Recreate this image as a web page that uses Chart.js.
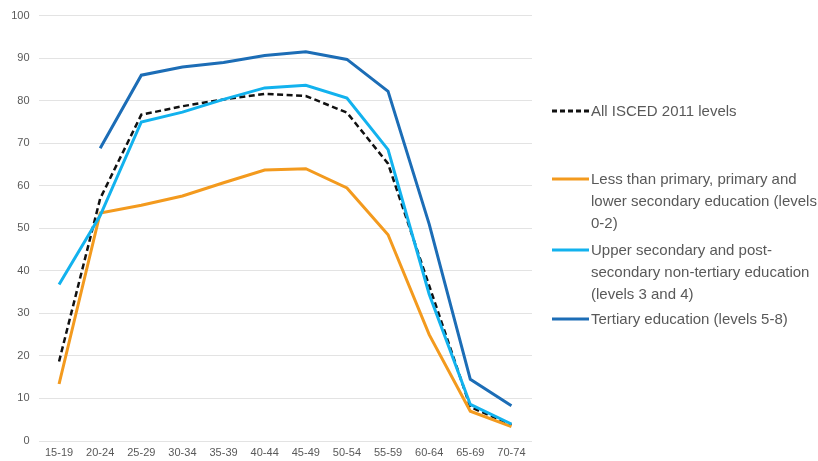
<!DOCTYPE html>
<html>
<head>
<meta charset="utf-8">
<script src="https://cdn.jsdelivr.net/npm/chart.js@4.4.0/dist/chart.umd.min.js"></script>
<style>
  html, body { margin: 0; padding: 0; background: #fff; }
  #wrap { position: relative; width: 818px; height: 461px; }
</style>
</head>
<body>
<div id="wrap"><canvas id="chart"></canvas></div>
<script>
const ageGroups = ['15-19', '20-24', '25-29', '30-34', '35-39', '40-44', '45-49', '50-54', '55-59', '60-64', '65-69', '70-74'];

// employment rates by education level (%)
const allLevels = [18.7, 57.0, 76.7, 78.7, 80.3, 81.6, 81.1, 77.2, 65.2, 36.5, 8.0, 3.8];
const lowerEdu = [13.4, 53.6, 55.4, 57.6, 60.7, 63.7, 64.0, 59.5, 48.5, 25.0, 7.0, 3.4];
const upperEdu = [36.8, 53.0, 75.0, 77.3, 80.3, 83.0, 83.6, 80.6, 68.5, 34.5, 8.6, 4.0];
const tertiaryEdu = [null, 68.8, 86.0, 87.9, 89.0, 90.6, 91.5, 89.7, 82.2, 51.0, 14.5, 8.3];

const yTicks = [0, 10, 20, 30, 40, 50, 60, 70, 80, 90, 100];

const legendLabels = [
    ['All ISCED 2011 levels'],
    ['Less than primary, primary and', 'lower secondary education (levels', '0-2)'],
    ['Upper secondary and post-', 'secondary non-tertiary education', '(levels 3 and 4)'],
    ['Tertiary education (levels 5-8)']
];

const colors = {
    all: '#111111',
    lower: '#F39A1E',
    upper: '#12B2EE',
    tertiary: '#1C6DB6'
};

const tickFont = { family: "'Liberation Sans Narrow', 'Arial Narrow', 'Liberation Sans', sans-serif", size: 11 };

// legend drawn by hand so the wrapped labels sit like the original
const sideLegend = {
    id: 'sideLegend',
    afterDraw(chart) {
        const ctx = chart.ctx;
        const rows = [111, 179, 250, 319];
        const items = [
            { color: colors.all, dash: [5, 3] },
            { color: colors.lower, dash: [] },
            { color: colors.upper, dash: [] },
            { color: colors.tertiary, dash: [] }
        ];
        ctx.save();
        ctx.font = "15px 'Liberation Sans', Arial, sans-serif";
        ctx.textBaseline = 'middle';
        ctx.fillStyle = '#595959';
        items.forEach((item, i) => {
            const y = rows[i];
            ctx.beginPath();
            ctx.setLineDash(item.dash);
            ctx.strokeStyle = item.color;
            ctx.lineWidth = 3;
            ctx.moveTo(552, y);
            ctx.lineTo(589, y);
            ctx.stroke();
            legendLabels[i].forEach((line, j) => {
                ctx.fillText(line, 591, y + 1 + j * 21.7);
            });
        });
        ctx.restore();
    }
};

const ctx = document.getElementById('chart').getContext('2d');
new Chart(ctx, {
    type: 'line',
    data: {
        labels: ageGroups,
        datasets: [
            {
                label: 'Tertiary education (levels 5-8)',
                data: tertiaryEdu,
                borderColor: colors.tertiary,
                borderWidth: 3
            },
            {
                label: 'Upper secondary and post-secondary non-tertiary education (levels 3 and 4)',
                data: upperEdu,
                borderColor: colors.upper,
                borderWidth: 3
            },
            {
                label: 'Less than primary, primary and lower secondary education (levels 0-2)',
                data: lowerEdu,
                borderColor: colors.lower,
                borderWidth: 3
            },
            {
                label: 'All ISCED 2011 levels',
                data: allLevels,
                borderColor: colors.all,
                borderWidth: 2.5,
                borderDash: [6, 3.5]
            }
        ]
    },
    options: {
        responsive: true,
        maintainAspectRatio: false,
        animation: false,
        layout: { padding: { top: 15, right: 286, bottom: 0, left: 0 } },
        elements: {
            point: { radius: 0 },
            line: { tension: 0, fill: false, borderCapStyle: 'butt' }
        },
        plugins: {
            legend: { display: false },
            tooltip: { enabled: false }
        },
        scales: {
            x: {
                offset: true,
                grid: { display: false, drawTicks: false },
                border: { display: false },
                ticks: { color: '#595959', font: tickFont, maxRotation: 0, autoSkip: false, padding: 5 },
                afterFit(scale) {
                    scale.height = 20;
                }
            },
            y: {
                min: 0,
                max: 100,
                afterBuildTicks(scale) {
                    scale.ticks = yTicks.map(v => ({ value: v }));
                },
                afterFit(scale) {
                    scale.width = 38.5;
                },
                grid: { color: '#E3E3E3', lineWidth: 1, drawTicks: false },
                border: { display: false },
                ticks: { color: '#595959', font: tickFont, padding: 9 }
            }
        }
    },
    plugins: [sideLegend]
});
</script>
</body>
</html>
